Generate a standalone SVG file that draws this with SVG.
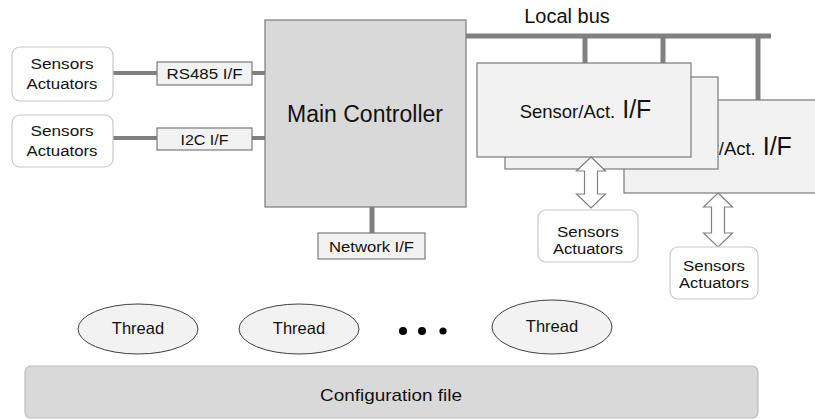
<svg xmlns="http://www.w3.org/2000/svg" width="815" height="419" viewBox="0 0 815 419">
  <style>
    text { font-family: "Liberation Sans", Arial, sans-serif; fill: #111; text-anchor: middle; }
    .dev { fill: #ffffff; stroke: #c8c8c8; stroke-width: 1.2; }
    .ifc { fill: #f2f2f2; stroke: #7a7a7a; stroke-width: 1.2; }
    .main { fill: #d9d9d9; stroke: #7a7a7a; stroke-width: 1.2; }
    .thr { fill: #f2f2f2; stroke: #404040; stroke-width: 1; }
    .cfg { fill: #d9d9d9; stroke: #bdbdbd; stroke-width: 1.2; }
    .wire { stroke: #808080; stroke-width: 4; fill: none; }
    .bus { stroke: #808080; stroke-width: 5; fill: none; }
    .dbl { fill: #ffffff; stroke: #808080; stroke-width: 1.2; }
    .lbl { font-size: 15.5px; }
    .thd { font-size: 16.5px; }
    .sm { font-size: 18.5px; }
    .lg { font-size: 25px; }
  </style>

  <!-- connectors -->
  <g id="connectors">
    <line class="wire" x1="113" y1="73" x2="157" y2="73"/>
    <line class="wire" x1="252" y1="73" x2="265" y2="73"/>
    <line class="wire" x1="113" y1="138" x2="157" y2="138"/>
    <line class="wire" x1="252" y1="138" x2="265" y2="138"/>
    <line class="bus" x1="372" y1="207" x2="372" y2="233"/>
    <line class="bus" x1="466" y1="36" x2="771" y2="36"/>
    <line class="bus" x1="585" y1="36" x2="585" y2="63"/>
    <line class="bus" x1="663" y1="36" x2="663" y2="77"/>
    <line class="bus" x1="758" y1="36" x2="758" y2="100"/>
  </g>

  <text x="567" y="23" font-size="20">Local bus</text>

  <!-- field devices on the left -->
  <g id="dev1">
    <rect class="dev" x="12" y="47" width="101" height="54" rx="8"/>
    <text class="lbl" x="62" y="69" textLength="63" lengthAdjust="spacingAndGlyphs">Sensors</text>
    <text class="lbl" x="62" y="89" textLength="71" lengthAdjust="spacingAndGlyphs">Actuators</text>
  </g>
  <g id="dev2">
    <rect class="dev" x="12" y="115" width="101" height="52" rx="8"/>
    <text class="lbl" x="62" y="136" textLength="63" lengthAdjust="spacingAndGlyphs">Sensors</text>
    <text class="lbl" x="62" y="156" textLength="71" lengthAdjust="spacingAndGlyphs">Actuators</text>
  </g>

  <g id="rs485">
    <rect class="ifc" x="157" y="62" width="95" height="23"/>
    <text class="lbl" x="204.5" y="79" textLength="76" lengthAdjust="spacingAndGlyphs">RS485 I/F</text>
  </g>
  <g id="i2c">
    <rect class="ifc" x="157" y="128" width="95" height="22"/>
    <text class="lbl" x="204.5" y="145" textLength="48" lengthAdjust="spacingAndGlyphs">I2C I/F</text>
  </g>

  <g id="main">
    <rect class="main" x="265" y="20" width="201" height="187"/>
    <text x="365" y="122" font-size="23">Main Controller</text>
  </g>

  <g id="net">
    <rect class="ifc" x="318" y="233" width="107" height="26"/>
    <text class="lbl" x="371.5" y="252" textLength="85" lengthAdjust="spacingAndGlyphs">Network I/F</text>
  </g>

  <!-- stacked sensor/actuator interface boards -->
  <g id="sif3">
    <rect class="ifc" x="624" y="100" width="200" height="93"/>
    <text x="726" y="155"><tspan class="sm">Sensor/Act.</tspan><tspan class="lg"> I/F</tspan></text>
  </g>
  <g id="sif2">
    <rect class="ifc" x="505" y="77" width="213" height="92"/>
  </g>
  <g id="sif1">
    <rect class="ifc" x="477" y="63" width="214" height="94"/>
    <text x="585.5" y="118"><tspan class="sm">Sensor/Act.</tspan><tspan class="lg"> I/F</tspan></text>
  </g>

  <!-- bidirectional links -->
  <g id="links">
    <polygon class="dbl" points="591,157 605.5,171 597.5,171 597.5,194 605.5,194 591,208 576.5,194 584.5,194 584.5,171 576.5,171"/>
    <polygon class="dbl" points="718,193 732.5,207 724.5,207 724.5,233 732.5,233 718,247 703.5,233 711.5,233 711.5,207 703.5,207"/>
  </g>

  <g id="dev3">
    <rect class="dev" x="538" y="210" width="100" height="52" rx="8"/>
    <text class="lbl" x="588" y="237" textLength="62" lengthAdjust="spacingAndGlyphs">Sensors</text>
    <text class="lbl" x="588" y="254" textLength="70" lengthAdjust="spacingAndGlyphs">Actuators</text>
  </g>
  <g id="dev4">
    <rect class="dev" x="670" y="247" width="88" height="52" rx="8"/>
    <text class="lbl" x="714" y="271" textLength="62" lengthAdjust="spacingAndGlyphs">Sensors</text>
    <text class="lbl" x="714" y="288" textLength="70" lengthAdjust="spacingAndGlyphs">Actuators</text>
  </g>

  <!-- runtime threads -->
  <g id="thread1">
    <ellipse class="thr" cx="138" cy="329" rx="60" ry="25"/>
    <text class="thd" x="138" y="334">Thread</text>
  </g>
  <g id="thread2">
    <ellipse class="thr" cx="299" cy="329" rx="60" ry="25"/>
    <text class="thd" x="299" y="334">Thread</text>
  </g>
  <g id="ellipsis" fill="#000">
    <circle cx="403" cy="331" r="4"/>
    <circle cx="422" cy="331" r="4"/>
    <circle cx="443" cy="331" r="3.6"/>
  </g>
  <g id="thread3">
    <ellipse class="thr" cx="552" cy="327" rx="60" ry="27"/>
    <text class="thd" x="552" y="332">Thread</text>
  </g>

  <g id="config">
    <rect class="cfg" x="25" y="366" width="733" height="52" rx="6"/>
    <text x="391" y="401" font-size="17" textLength="142" lengthAdjust="spacingAndGlyphs">Configuration file</text>
  </g>
</svg>
